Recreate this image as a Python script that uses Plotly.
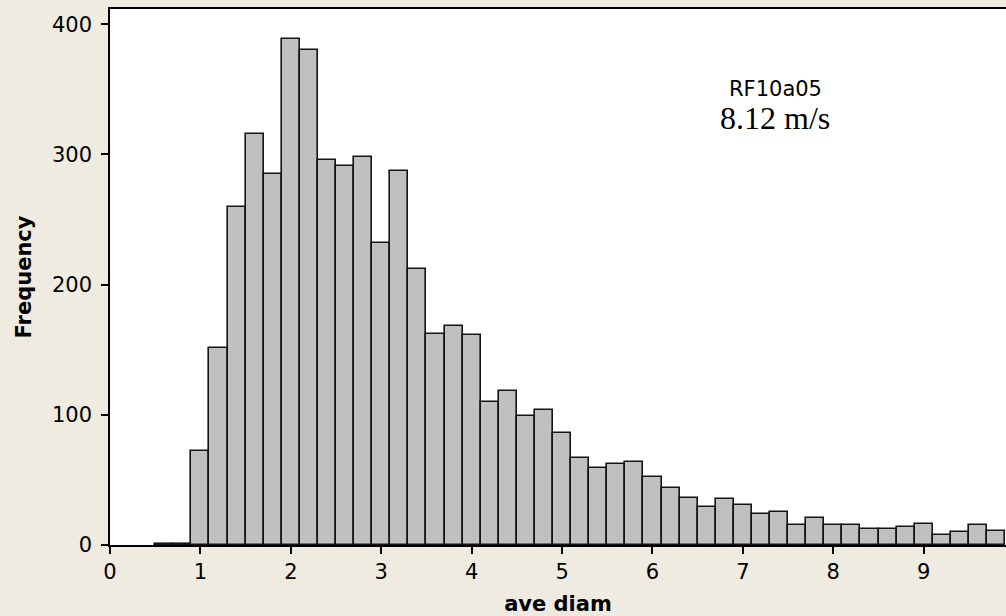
import plotly.graph_objects as go

# Histogram bins (left edges, width 0.2) and counts
bin_left = [0.5, 0.7, 0.9, 1.1, 1.3, 1.5, 1.7, 1.9, 2.1, 2.3, 2.5, 2.7, 2.9, 3.1,
            3.3, 3.5, 3.7, 3.9, 4.1, 4.3, 4.5, 4.7, 4.9, 5.1, 5.3, 5.5, 5.7, 5.9,
            6.1, 6.3, 6.5, 6.7, 6.9, 7.1, 7.3, 7.5, 7.7, 7.9, 8.1, 8.3, 8.5, 8.7,
            8.9, 9.1, 9.3, 9.5, 9.7]
counts = [1, 1, 72, 151, 260, 316, 285, 389, 380, 296, 291, 298, 232, 287,
          212, 162, 168, 161, 110, 118, 99, 104, 86, 67, 59, 62, 64, 52,
          44, 36, 29, 35, 31, 24, 25, 15, 21, 15, 15, 12, 12, 14,
          16, 8, 10, 15, 11]
bin_width = 0.2

x_ticks = [0, 1, 2, 3, 4, 5, 6, 7, 8, 9]
y_ticks = [0, 100, 200, 300, 400]

label_run = "RF10a05"
label_speed = "8.12 m/s"
x_title = "ave diam"
y_title = "Frequency"

BG = "#EFEBE0"
SANS = "DejaVu Sans"

fig = go.Figure(go.Bar(
    x=bin_left, y=counts, width=bin_width, offset=0,
    marker=dict(color="#C0C0C0", line=dict(color="#141414", width=1.6)),
    showlegend=False, hoverinfo="x+y",
))

fig.update_layout(
    width=1006, height=616,
    margin=dict(l=110, r=0, t=9, b=71),
    paper_bgcolor=BG, plot_bgcolor="white",
    bargap=0,
    font=dict(family=SANS, color="black", size=21),
    xaxis=dict(
        range=[0, 9.91], tickvals=x_ticks, ticktext=[str(v) for v in x_ticks],
        showline=True, linecolor="black", linewidth=1.5, mirror=True,
        ticks="outside", ticklen=7, tickwidth=1.5, tickcolor="black",
        showgrid=False, zeroline=False,
        tickfont=dict(family=SANS, size=21, color="black"),
        title=dict(text=x_title, font=dict(family=SANS, size=21, color="black", weight="bold"), standoff=13),
    ),
    yaxis=dict(
        range=[0, 411.7], tickvals=y_ticks, ticktext=[str(v) for v in y_ticks],
        showline=True, linecolor="black", linewidth=1.5, mirror=False,
        ticks="outside", ticklen=7, tickwidth=1.5, tickcolor="black",
        ticklabelstandoff=5,
        showgrid=False, zeroline=False,
        tickfont=dict(family=SANS, size=21, color="black"),
        title=dict(text=y_title, font=dict(family=SANS, size=21, color="black", weight="bold"), standoff=15),
    ),
    annotations=[
        dict(text=label_run, xref="paper", yref="paper", x=0.743, y=0.851,
             showarrow=False, xanchor="center", yanchor="middle",
             font=dict(family=SANS, size=21, color="black")),
        dict(text=label_speed, xref="paper", yref="paper", x=0.742, y=0.797,
             showarrow=False, xanchor="center", yanchor="middle",
             font=dict(family="Liberation Serif", size=32, color="black")),
    ],
)

fig.write_html(
    "out.html",
    config={"displayModeBar": False},
    post_script="document.body.style.margin='0';document.body.style.background='" + BG + "';",
)
